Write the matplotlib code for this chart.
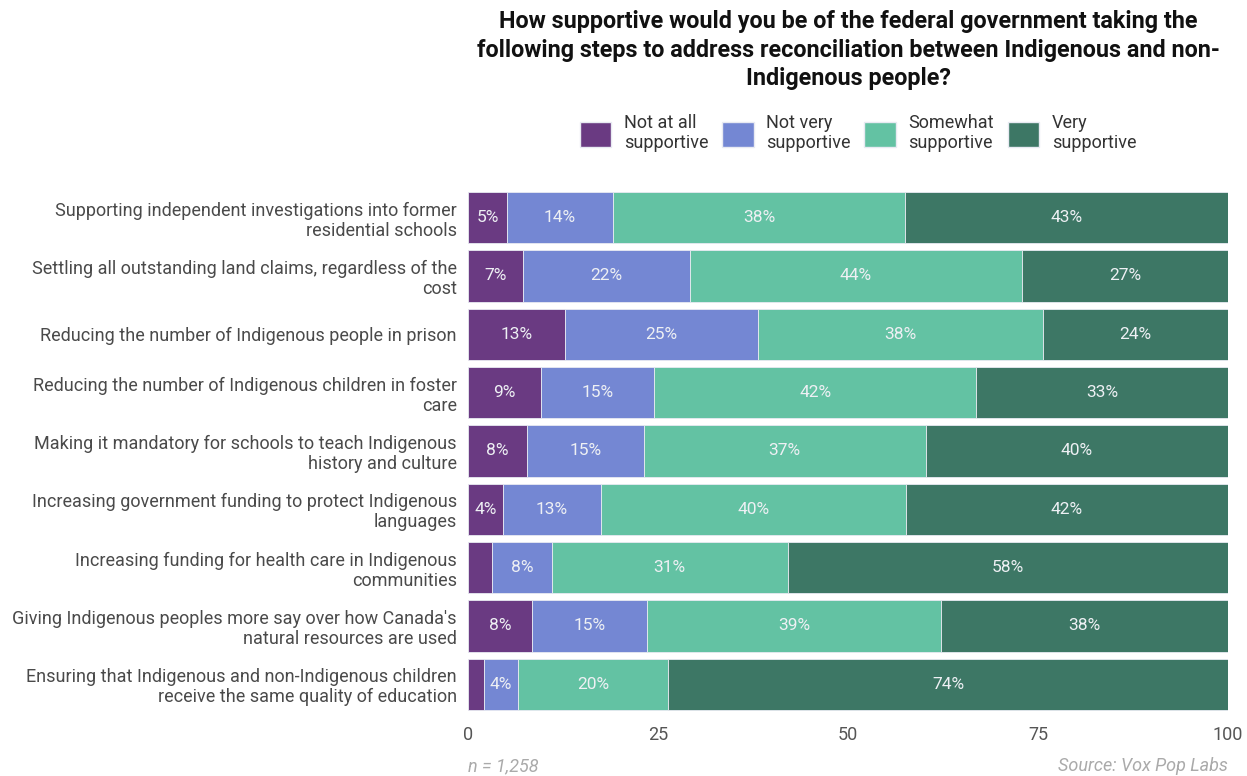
import matplotlib
matplotlib.use("Agg")
import matplotlib.pyplot as plt
from matplotlib.patches import Patch
from matplotlib import font_manager

names = {f.name for f in font_manager.fontManager.ttflist}
FONT = "Liberation Sans Narrow" if "Liberation Sans Narrow" in names else "Roboto"
plt.rcParams['font.family'] = [FONT, 'DejaVu Sans']

categories = [
    "Supporting independent investigations into former\nresidential schools",
    "Settling all outstanding land claims, regardless of the\ncost",
    "Reducing the number of Indigenous people in prison",
    "Reducing the number of Indigenous children in foster\ncare",
    "Making it mandatory for schools to teach Indigenous\nhistory and culture",
    "Increasing government funding to protect Indigenous\nlanguages",
    "Increasing funding for health care in Indigenous\ncommunities",
    "Giving Indigenous peoples more say over how Canada's\nnatural resources are used",
    "Ensuring that Indigenous and non-Indigenous children\nreceive the same quality of education",
]
series_names = ["Not at all\nsupportive", "Not very\nsupportive", "Somewhat\nsupportive", "Very\nsupportive"]
not_at_all = [5.1, 7.2, 12.8, 9.6, 7.8, 4.6, 3.2, 8.4, 2.1]
not_very = [14.0, 22.0, 25.4, 14.9, 15.3, 12.9, 7.8, 15.1, 4.5]
somewhat = [38.4, 43.7, 37.5, 42.4, 37.1, 40.1, 31.1, 38.8, 19.7]
very = [42.5, 27.1, 24.3, 33.1, 39.8, 42.4, 57.9, 37.7, 73.7]
labels_not_at_all = ["5%", "7%", "13%", "9%", "8%", "4%", "", "8%", ""]
labels_not_very = ["14%", "22%", "25%", "15%", "15%", "13%", "8%", "15%", "4%"]
labels_somewhat = ["38%", "44%", "38%", "42%", "37%", "40%", "31%", "39%", "20%"]
labels_very = ["43%", "27%", "24%", "33%", "40%", "42%", "58%", "38%", "74%"]
xticks = [0, 25, 50, 75, 100]

colors = ["#6a3a82", "#7487d3", "#63c2a3", "#3d7765"]
series = [not_at_all, not_very, somewhat, very]
series_labels = [labels_not_at_all, labels_not_very, labels_somewhat, labels_very]

fig = plt.figure(figsize=(12.47, 7.76), dpi=100)
ax = fig.add_axes([468/1247, 1-713.5/776, (1228-468)/1247, (713.5-188.5)/776])

y = list(range(len(categories)))
left = [0.0]*len(categories)
for vals, labs, col in zip(series, series_labels, colors):
    bars = ax.barh(y, vals, left=left, height=0.88, color=col, edgecolor="#e8eaf2", linewidth=0.6)
    for b, lab in zip(bars, labs):
        if lab:
            ax.text(b.get_x() + b.get_width()/2, b.get_y() + b.get_height()/2, lab,
                    ha="center", va="center", color="#eef0f4", fontsize=12.5)
    left = [l + v for l, v in zip(left, vals)]

ax.set_xlim(0, 100)
ax.set_ylim(len(categories) - 0.5, -0.5)
ax.set_yticks(y)
ax.set_yticklabels(categories, fontsize=13, color="#4a4a4a", linespacing=1.15)
ax.set_xticks(xticks)
ax.set_xticklabels([str(t) for t in xticks], fontsize=13, color="#555555")
ax.tick_params(axis="y", length=0, pad=8)
ax.tick_params(axis="x", length=0, pad=9)
for s in ax.spines.values():
    s.set_visible(False)

fig.text(848/1247, 1-50/776, "How supportive would you be of the federal government taking the\nfollowing steps to address reconciliation between Indigenous and non-\nIndigenous people?",
         ha="center", va="center", fontsize=16.8, fontweight="bold", color="#111111", linespacing=1.3)

handles = [Patch(facecolor=c, edgecolor="#e8eaf2") for c in colors]
fig.legend(handles, series_names, loc="center", bbox_to_anchor=(858/1247, 1-133/776), ncol=4,
           frameon=False, fontsize=13, handlelength=1.75, handleheight=1.75, handletextpad=0.7,
           columnspacing=0.75, labelcolor="#333333")

fig.text(468/1247, 1-766/776, "n = 1,258", ha="left", va="center", fontsize=13, style="italic", color="#aaaaaa")
fig.text(1228/1247, 1-766/776, "Source: Vox Pop Labs", ha="right", va="center", fontsize=13, style="italic", color="#aaaaaa")

fig.savefig("out.png", dpi=100, facecolor="white")
